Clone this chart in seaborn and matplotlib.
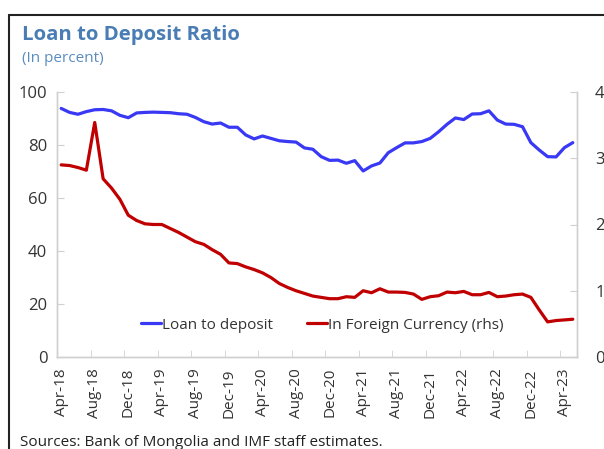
import matplotlib
matplotlib.use('Agg')
import matplotlib.pyplot as plt
from matplotlib.lines import Line2D
import seaborn as sns
import pandas as pd

# monthly, Apr-18 .. May-23
months = pd.date_range('2018-04-01', '2023-05-01', freq='MS')

loan_to_deposit = [93.8, 92.3, 91.6, 92.6, 93.3, 93.4, 92.9, 91.2, 90.3, 92.1,
                   92.3, 92.4, 92.3, 92.2, 91.8, 91.6, 90.4, 88.8, 87.9, 88.3,
                   86.7, 86.7, 83.8, 82.3, 83.4, 82.5, 81.6, 81.3, 81.1, 78.9,
                   78.4, 75.6, 74.2, 74.3, 73.1, 74.1, 70.2, 72.1, 73.2, 77.1,
                   79.0, 80.8, 80.8, 81.3, 82.5, 85.0, 87.8, 90.2, 89.6, 91.7,
                   91.8, 92.9, 89.4, 87.9, 87.8, 86.9, 80.9, 78.1, 75.6, 75.5,
                   79.0, 80.9]

foreign_currency = [29.0, 28.9, 28.6, 28.2, 35.4, 26.9, 25.5, 23.8, 21.4, 20.6,
                    20.1, 20.0, 20.0, 19.4, 18.8, 18.1, 17.4, 17.0, 16.2, 15.5,
                    14.2, 14.1, 13.6, 13.2, 12.7, 12.0, 11.1, 10.5, 10.0, 9.6,
                    9.2, 9.0, 8.8, 8.8, 9.1, 9.0, 10.0, 9.7, 10.3, 9.8,
                    9.8, 9.75, 9.5, 8.7, 9.1, 9.25, 9.8, 9.7, 9.9, 9.4,
                    9.4, 9.75, 9.1, 9.2, 9.4, 9.5, 9.0, 7.1, 5.3, 5.5,
                    5.6, 5.7]

labels = [m.strftime('%b-%y') for m in months]
df = pd.DataFrame({'pos': range(len(months)),
                   'ltd': loan_to_deposit,
                   'fx': foreign_currency})

sns.set_style('white')
plt.rcParams['font.family'] = ['Open Sans', 'DejaVu Sans']
txt = '#333333'
axc = '#d0d0d0'

fig = plt.figure(figsize=(6.04, 4.49), dpi=100)
ax = fig.add_axes([57 / 604, 1 - 357 / 449, 520 / 604, 265 / 449])
ax2 = ax.twinx()

sns.lineplot(data=df, x='pos', y='ltd', ax=ax, color='#3838f5', lw=2.3,
             label='Loan to deposit', legend=False)
sns.lineplot(data=df, x='pos', y='fx', ax=ax2, color='#c00000', lw=2.3,
             label='In Foreign Currency (rhs)', legend=False)

ax.set_xlim(-0.5, len(months) - 0.5)
ax.set_ylim(0, 100)
ax2.set_ylim(0, 40)
ax.set_yticks(range(0, 101, 20))
ax2.set_yticks(range(0, 41, 10))
ax.set_xticks(range(0, len(months), 4))
ax.set_xticklabels(labels[::4], rotation=90)
ax.set_xticks([p - 0.5 for p in range(0, len(months), 4)], minor=True)
ax.set_xlabel('')
ax.set_ylabel('')
ax2.set_ylabel('')

for a in (ax, ax2):
    for s in a.spines.values():
        s.set_color(axc)
        s.set_linewidth(1)
    a.spines['top'].set_visible(False)
ax.tick_params(axis='x', which='major', length=0, pad=8, labelsize=11, labelcolor=txt)
ax.tick_params(axis='x', which='minor', direction='in', length=5, color=axc, bottom=True)
ax.tick_params(axis='y', direction='in', length=5, color=axc, pad=7, labelsize=12,
               labelcolor=txt, left=True)
# right-hand labels run past the picture edge, as in the original
ax2.tick_params(axis='y', direction='in', length=5, color=axc, pad=13, labelsize=12,
                labelcolor=txt, right=True)

h1, l1 = ax.get_legend_handles_labels()
h2, l2 = ax2.get_legend_handles_labels()
ax2.legend(h1 + h2, l1 + l2, loc='center', bbox_to_anchor=(0.51, 0.12), ncol=2,
           frameon=False, fontsize=11, handlelength=1.3, handletextpad=0.1,
           columnspacing=2.2, labelcolor=txt)

fig.text(22 / 604, 1 - 35 / 449, 'Loan to Deposit Ratio', fontsize=14.7,
         fontweight='bold', color='#4a7db3', va='center', ha='left')
fig.text(22 / 604, 1 - 58 / 449, '(In percent)', fontsize=11, color='#5b8cc0',
         va='center', ha='left')
fig.text(20 / 604, 1 - 442 / 449, 'Sources: Bank of Mongolia and IMF staff estimates.',
         fontsize=11, color='#222222', va='center', ha='left')

# outer frame (left and top edges)
fig.add_artist(Line2D([8.5 / 604, 8.5 / 604], [0, 1 - 15 / 449], color='#222222', lw=1.5))
fig.add_artist(Line2D([8.5 / 604, 1], [1 - 15 / 449, 1 - 15 / 449], color='#222222', lw=1.5))

fig.savefig('out.png', dpi=100)
